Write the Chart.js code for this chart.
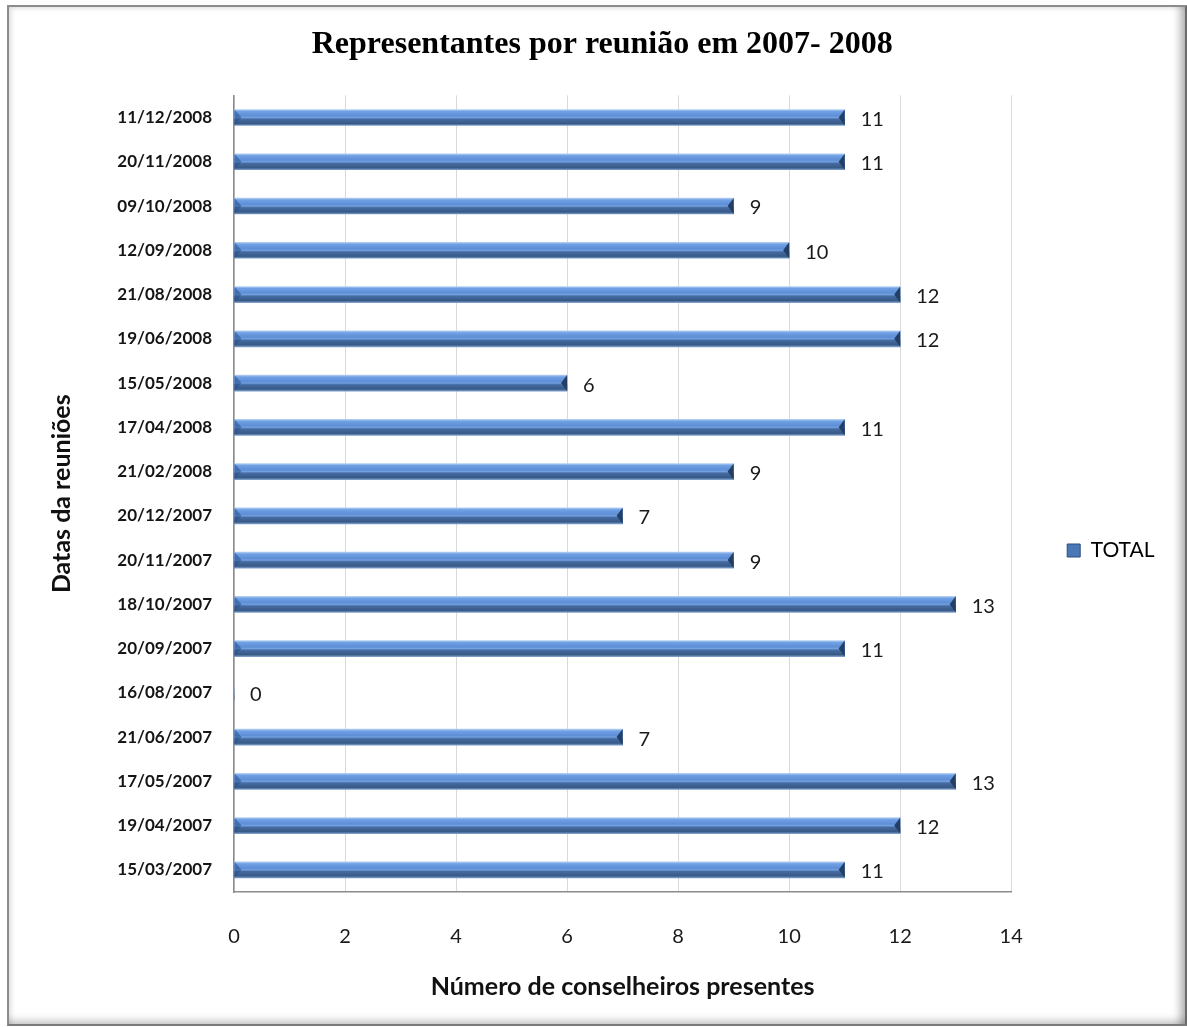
<!DOCTYPE html>
<html lang="pt-BR">
<head>
  <meta charset="UTF-8" />
  <title>Representantes por reunião em 2007- 2008</title>
  <script src="https://cdn.jsdelivr.net/npm/chart.js"></script>
  <style>
    body {
      margin: 0;
      padding: 0;
      background: #fff;
    }

    #quadro {
      position: relative;
      width: 1187px;
      height: 1027px;
    }

    #grafico {
      position: absolute;
      left: 0;
      top: 0;
    }

    /* moldura cinza com sombra interna */
    #moldura {
      position: absolute;
      left: 7px;
      top: 5px;
      width: 1176px;
      height: 1017px;
      border: 2px solid #8c8c8c;
      border-right: 3px solid #6a6a6a;
      border-bottom: 2px solid #7a7a7a;
      box-shadow: inset -12px 0 10px -8px rgba(0, 0, 0, 0.35),
                  inset 0 -10px 8px -7px rgba(0, 0, 0, 0.25),
                  inset 5px 4px 6px -4px rgba(0, 0, 0, 0.18);
      pointer-events: none;
    }
  </style>
</head>
<body>
  <div id="quadro">
    <canvas id="grafico" width="1187" height="1027"></canvas>
    <div id="moldura"></div>
  </div>

  <script>
    const datas = [
      '11/12/2008', '20/11/2008', '09/10/2008', '12/09/2008', '21/08/2008', '19/06/2008',
      '15/05/2008', '17/04/2008', '21/02/2008', '20/12/2007', '20/11/2007', '18/10/2007',
      '20/09/2007', '16/08/2007', '21/06/2007', '17/05/2007', '19/04/2007', '15/03/2007'
    ];
    const total = [11, 11, 9, 10, 12, 12, 6, 11, 9, 7, 9, 13, 11, 0, 7, 13, 12, 11];
    const ticksX = [0, 2, 4, 6, 8, 10, 12, 14];

    const fonteSans = 'Lato, "Open Sans", sans-serif';

    // gradiente vertical de cada barra (efeito cilíndrico)
    function corBarra(c) {
      const chart = c.chart;
      const ys = chart.scales.y;
      if (!ys || c.dataIndex === undefined) return '#4f81bd';
      const y = ys.getPixelForValue(c.dataIndex);
      const g = chart.ctx.createLinearGradient(0, y - 8, 0, y + 8);
      g.addColorStop(0, '#b3cff2');
      g.addColorStop(0.12, '#70a0e4');
      g.addColorStop(0.4, '#5d8ed6');
      g.addColorStop(0.5, '#73a1e0');
      g.addColorStop(0.6, '#466ba2');
      g.addColorStop(0.88, '#365985');
      g.addColorStop(1, '#7c9ec9');
      return g;
    }

    // chanfros nas pontas das barras
    const chanfros = {
      id: 'chanfros',
      afterDatasetsDraw(chart) {
        const ctx = chart.ctx;
        chart.getDatasetMeta(0).data.forEach(bar => {
          if (bar.x - bar.base < 2) return;
          const t = bar.y - bar.height / 2, b = bar.y + bar.height / 2;
          ctx.save();
          ctx.fillStyle = 'rgba(40, 80, 140, 0.55)';
          ctx.beginPath();
          ctx.moveTo(bar.base, t);
          ctx.lineTo(bar.base + 7, bar.y);
          ctx.lineTo(bar.base, b);
          ctx.fill();
          ctx.fillStyle = '#243f66';
          ctx.beginPath();
          ctx.moveTo(bar.x, t);
          ctx.lineTo(bar.x - 6, bar.y);
          ctx.lineTo(bar.x, b);
          ctx.fill();
          ctx.restore();
        });
      }
    };

    // rótulos com o valor à direita de cada barra
    const rotulos = {
      id: 'rotulos',
      afterDatasetsDraw(chart) {
        const ctx = chart.ctx;
        ctx.save();
        ctx.font = '20px ' + fonteSans;
        ctx.fillStyle = '#1a1a1a';
        ctx.textAlign = 'left';
        ctx.textBaseline = 'middle';
        chart.getDatasetMeta(0).data.forEach((bar, i) => {
          ctx.fillText(String(total[i]), bar.x + 16, bar.y + 2);
        });
        ctx.restore();
      }
    };

    // desloca a legenda para a altura certa
    const posLegenda = {
      id: 'posLegenda',
      afterLayout(chart) {
        const lg = chart.legend;
        if (!lg) return;
        lg.top += 40;
        lg.bottom += 40;
      }
    };

    const ctx = document.getElementById('grafico').getContext('2d');
    new Chart(ctx, {
      type: 'bar',
      data: {
        labels: datas,
        datasets: [{
          label: 'TOTAL',
          data: total,
          backgroundColor: corBarra,
          borderWidth: 0,
          barThickness: 16
        }]
      },
      plugins: [chanfros, rotulos, posLegenda],
      options: {
        indexAxis: 'y',
        responsive: false,
        animation: false,
        layout: {
          padding: { top: 14, left: 40, right: 22.5, bottom: 20 }
        },
        scales: {
          x: {
            min: 0,
            max: 14,
            afterBuildTicks(scale) {
              scale.ticks = ticksX.map(v => ({ value: v }));
            },
            afterFit(scale) {
              scale.height = 115;
            },
            grid: { color: '#d9d9d9', drawTicks: false },
            border: { color: '#8c8c8c', width: 1.5 },
            ticks: {
              padding: 33,
              color: '#1a1a1a',
              font: { family: fonteSans, size: 20 }
            },
            title: {
              display: true,
              text: 'Número de conselheiros presentes',
              color: '#111',
              font: { family: fonteSans, size: 25, weight: 'bold' },
              padding: { top: 0, bottom: 5 }
            }
          },
          y: {
            afterFit(scale) {
              scale.width = 194;
            },
            grid: { display: false, drawTicks: false },
            border: { color: '#8c8c8c', width: 1.5 },
            ticks: {
              padding: 22,
              color: '#151515',
              font: { family: fonteSans, size: 17, weight: 'bold' }
            },
            title: {
              display: true,
              text: 'Datas da reuniões',
              color: '#111',
              font: { family: fonteSans, size: 25, weight: 'bold' },
              padding: { top: 7, bottom: 0 }
            }
          }
        },
        plugins: {
          title: {
            display: true,
            text: 'Representantes por reunião em 2007- 2008',
            color: '#000',
            font: { family: '"Liberation Serif", "Times New Roman", serif', size: 32, weight: 'bold' },
            padding: { top: 12, bottom: 31 }
          },
          legend: {
            position: 'right',
            labels: {
              boxWidth: 13,
              boxHeight: 13,
              padding: 56,
              color: '#1a1a1a',
              font: { family: fonteSans, size: 21 },
              generateLabels(chart) {
                return [{
                  text: 'TOTAL',
                  fillStyle: '#4a78b6',
                  strokeStyle: '#2c4d7a',
                  lineWidth: 1,
                  datasetIndex: 0
                }];
              }
            }
          },
          tooltip: { enabled: false }
        }
      }
    });
  </script>
</body>
</html>
